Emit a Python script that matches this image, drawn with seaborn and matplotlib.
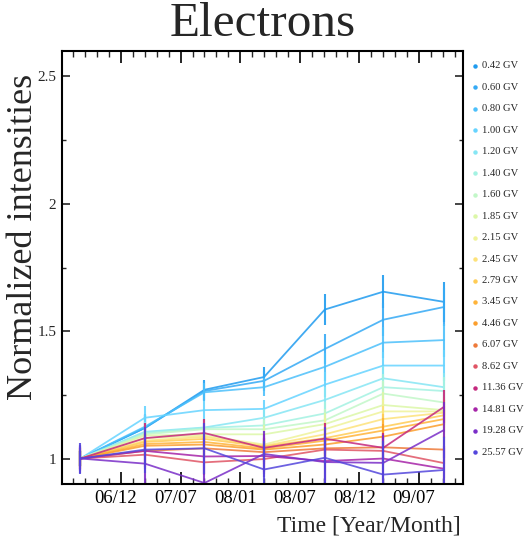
import numpy as np
import pandas as pd
import matplotlib
matplotlib.use("Agg")
import matplotlib.pyplot as plt
import seaborn as sns
from matplotlib.ticker import FixedLocator, AutoMinorLocator, MultipleLocator
from matplotlib.transforms import ScaledTranslation
from matplotlib.lines import Line2D

# Mid-times of the averaging periods (decimal years)
periods = [2006.58, 2007.12, 2007.62, 2008.12, 2008.63, 2009.12, 2009.63]

# Axis tick positions (decimal years) and their labels
tick_times = [2006.92, 2007.42, 2007.92, 2008.42, 2008.92, 2009.42]
tick_labels = ["06/12", "07/07", "08/01", "08/07", "08/12", "09/07"]

rigidity_labels = ["0.42 GV", "0.60 GV", "0.80 GV", "1.00 GV", "1.20 GV",
                   "1.40 GV", "1.60 GV", "1.85 GV", "2.15 GV", "2.45 GV",
                   "2.79 GV", "3.45 GV", "4.46 GV", "6.07 GV", "8.62 GV",
                   "11.36 GV", "14.81 GV", "19.28 GV", "25.57 GV"]

colors = ["#1f9bef", "#35aaf5", "#4cc0fb", "#66d4ff", "#86e6f4",
          "#a4f2e2", "#c2f7c8", "#dcf7a8", "#eff39a", "#fde27a",
          "#ffcc55", "#ffb43a", "#fb9e2c", "#ee7a3a", "#e05565",
          "#c4287e", "#a624a8", "#7a2ec8", "#5446dc"]

# Normalized intensities per rigidity bin
i_0p42 = [1.0, 1.120, 1.270, 1.320, 1.585, 1.655, 1.615]
i_0p60 = [1.0, 1.120, 1.265, 1.305, 1.430, 1.545, 1.595]
i_0p80 = [1.0, 1.125, 1.260, 1.280, 1.360, 1.455, 1.465]
i_1p00 = [1.0, 1.160, 1.190, 1.195, 1.290, 1.365, 1.365]
i_1p20 = [1.0, 1.105, 1.122, 1.160, 1.230, 1.315, 1.280]
i_1p40 = [1.0, 1.100, 1.120, 1.130, 1.177, 1.280, 1.265]
i_1p60 = [1.0, 1.095, 1.115, 1.115, 1.150, 1.255, 1.220]
i_1p85 = [1.0, 1.090, 1.095, 1.095, 1.135, 1.210, 1.190]
i_2p15 = [1.0, 1.080, 1.090, 1.055, 1.115, 1.185, 1.185]
i_2p45 = [1.0, 1.070, 1.085, 1.050, 1.095, 1.155, 1.180]
i_2p79 = [1.0, 1.065, 1.077, 1.047, 1.080, 1.125, 1.170]
i_3p45 = [1.0, 1.057, 1.065, 1.040, 1.070, 1.110, 1.155]
i_4p46 = [1.0, 1.050, 1.055, 1.035, 1.055, 1.086, 1.135]
i_6p07 = [1.0, 1.030, 1.040, 1.025, 1.040, 1.044, 1.035]
i_8p62 = [1.0, 1.015, 0.985, 0.998, 1.035, 1.030, 0.982]
i_11p36 = [1.0, 1.080, 1.100, 1.042, 1.078, 1.042, 1.203]
i_14p81 = [1.0, 1.030, 1.008, 1.010, 0.990, 1.000, 0.960]
i_19p28 = [1.0, 0.980, 0.904, 1.018, 0.986, 0.983, 1.112]
i_25p57 = [1.0, 1.035, 1.040, 0.957, 1.003, 0.937, 0.955]

# Uncertainties per rigidity bin
e_0p42 = [0.030, 0.055, 0.040, 0.040, 0.060, 0.065, 0.080]
e_0p60 = [0.030, 0.050, 0.040, 0.040, 0.060, 0.065, 0.075]
e_0p80 = [0.030, 0.045, 0.035, 0.035, 0.055, 0.060, 0.065]
e_1p00 = [0.030, 0.045, 0.035, 0.035, 0.050, 0.055, 0.060]
e_1p20 = [0.030, 0.040, 0.035, 0.035, 0.050, 0.050, 0.055]
e_1p40 = [0.030, 0.040, 0.035, 0.035, 0.045, 0.050, 0.055]
e_1p60 = [0.030, 0.040, 0.035, 0.035, 0.045, 0.050, 0.050]
e_1p85 = [0.030, 0.040, 0.035, 0.035, 0.045, 0.050, 0.050]
e_2p15 = [0.030, 0.040, 0.035, 0.035, 0.045, 0.050, 0.050]
e_2p45 = [0.030, 0.040, 0.035, 0.035, 0.045, 0.050, 0.050]
e_2p79 = [0.030, 0.040, 0.035, 0.035, 0.045, 0.050, 0.050]
e_3p45 = [0.035, 0.040, 0.040, 0.040, 0.045, 0.050, 0.050]
e_4p46 = [0.035, 0.045, 0.040, 0.040, 0.045, 0.050, 0.055]
e_6p07 = [0.040, 0.050, 0.045, 0.045, 0.050, 0.055, 0.055]
e_8p62 = [0.040, 0.050, 0.050, 0.050, 0.055, 0.055, 0.060]
e_11p36 = [0.045, 0.060, 0.055, 0.055, 0.060, 0.060, 0.065]
e_14p81 = [0.050, 0.070, 0.070, 0.070, 0.080, 0.085, 0.090]
e_19p28 = [0.055, 0.085, 0.090, 0.090, 0.100, 0.110, 0.110]
e_25p57 = [0.060, 0.090, 0.100, 0.110, 0.120, 0.130, 0.130]

intensities = [i_0p42, i_0p60, i_0p80, i_1p00, i_1p20, i_1p40, i_1p60,
               i_1p85, i_2p15, i_2p45, i_2p79, i_3p45, i_4p46, i_6p07,
               i_8p62, i_11p36, i_14p81, i_19p28, i_25p57]
errors = [e_0p42, e_0p60, e_0p80, e_1p00, e_1p20, e_1p40, e_1p60,
          e_1p85, e_2p15, e_2p45, e_2p79, e_3p45, e_4p46, e_6p07,
          e_8p62, e_11p36, e_14p81, e_19p28, e_25p57]

rows = []
for lbl, vals, errs in zip(rigidity_labels, intensities, errors):
    for t, v, e in zip(periods, vals, errs):
        rows.append({"time": t, "value": v, "err": e, "rigidity": lbl})
df = pd.DataFrame(rows)

sns.set_theme(style="ticks")
plt.rcParams["font.family"] = ["Liberation Serif", "DejaVu Serif"]

W, H = 526, 537
fig = plt.figure(figsize=(W / 100, H / 100), dpi=100)
ax = fig.add_axes([62 / W, 1 - 484 / H, (463 - 62) / W, (484 - 51) / H])

for lbl, col in zip(rigidity_labels, colors):
    sub = df[df["rigidity"] == lbl]
    sns.lineplot(data=sub, x="time", y="value", color=col, lw=1.3,
                 alpha=0.85, errorbar=None, legend=False, ax=ax)
    ax.errorbar(sub["time"], sub["value"], yerr=sub["err"], fmt="none",
                ecolor=col, elinewidth=1.5, capsize=0, alpha=0.9)

ax.set_xlim(2006.425, 2009.789)
ax.set_ylim(0.9, 2.6)

ax.xaxis.set_major_locator(FixedLocator(tick_times))
ax.xaxis.set_minor_locator(AutoMinorLocator(5))
ax.set_xticklabels(tick_labels)
ax.yaxis.set_major_locator(MultipleLocator(0.5))
ax.yaxis.set_minor_locator(AutoMinorLocator(2))
ax.set_yticks([1, 1.5, 2, 2.5])
ax.set_yticklabels(["1", "1.5", "2", "2.5"])

ax.tick_params(axis="x", which="major", direction="in", length=8.5, width=1.2,
               top=True, labelsize=13.5, pad=4, colors="black")
ax.tick_params(axis="x", which="minor", direction="in", length=4.3, width=1.0,
               top=True)
ax.tick_params(axis="y", which="major", direction="in", length=5.5, width=1.2,
               right=True, labelsize=11, pad=4)
ax.tick_params(axis="y", which="minor", direction="in", length=3, width=1.0,
               right=True)

shift = ScaledTranslation(-5 / 100, 0, fig.dpi_scale_trans)
for t in ax.get_xticklabels():
    t.set_transform(t.get_transform() + shift)

for s in ax.spines.values():
    s.set_linewidth(1.5)
    s.set_color("black")

ax.set_xlabel("")
ax.set_ylabel("")

fig.text(263 / W, 1 - 24 / H, "Electrons", ha="center", va="center",
         fontsize=35.5)
fig.text(24 / W, 1 - 237 / H, "Normalized intensities", rotation=90,
         ha="center", va="center", fontsize=26)
fig.text(461 / W, 1 - 526 / H, "Time [Year/Month]", ha="right",
         va="center", fontsize=17)

# Series key to the right of the frame
for k, (lbl, col) in enumerate(zip(rigidity_labels, colors)):
    yk = 1 - (66 + k * 21.45) / H
    fig.add_artist(Line2D([475 / W], [yk], marker="o", markersize=2.2,
                          color=col, linestyle="none"))
    fig.text(482 / W, yk, lbl, ha="left", va="center", fontsize=7.6)

fig.savefig("out.png", dpi=100)
